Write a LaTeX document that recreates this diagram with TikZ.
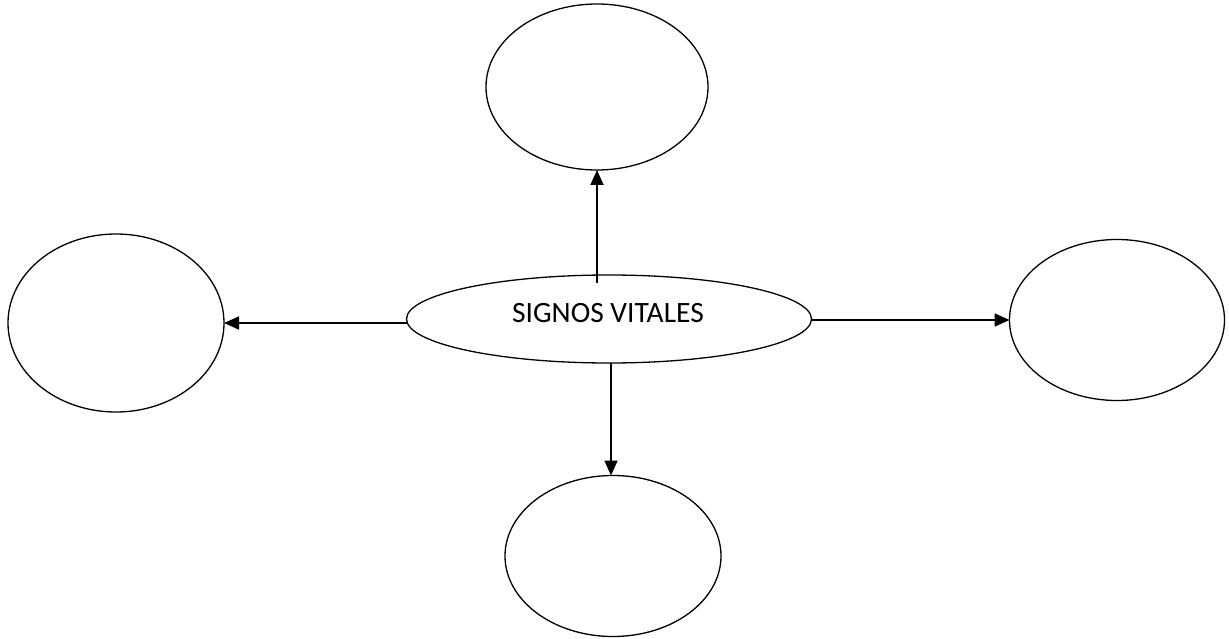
\documentclass[tikz,border=0pt]{standalone}
\usepackage{fontspec}
\setmainfont{Carlito}
\usetikzlibrary{shapes.geometric,arrows.meta}
\begin{document}
\begin{tikzpicture}[x=1pt,y=-1pt,
  oval/.style={draw,ellipse,line width=1.3pt,inner sep=0pt,outer sep=0pt},
  arr/.style={line width=1.8pt,-{Triangle[length=15pt,width=13pt]}}]
\useasboundingbox (0,0) rectangle (1229,639);
\node[oval,minimum width=222pt,minimum height=166pt] (t) at (597,87) {};
\node[oval,minimum width=216pt,minimum height=178pt] (l) at (116,323) {};
\node[oval,minimum width=215pt,minimum height=161pt] (r) at (1117,320) {};
\node[oval,minimum width=216pt,minimum height=161pt] (b) at (613,556) {};
\node[oval,minimum width=405pt,minimum height=88pt] (c) at (609,319) {};
\node[font=\fontsize{29.5}{33}\selectfont,inner sep=0pt] (ct) at (608,313) {SIGNOS VITALES};
\coordinate (us) at (597,283);
\coordinate (ds) at (611,363);
\draw[arr] (us) -- (us |- t.south);
\draw[arr] (c.west |- l.east) -- (l.east);
\draw[arr] (c.east |- r.west) -- (r.west);
\draw[arr] (ds) -- (ds |- b.north);
\end{tikzpicture}
\end{document}
